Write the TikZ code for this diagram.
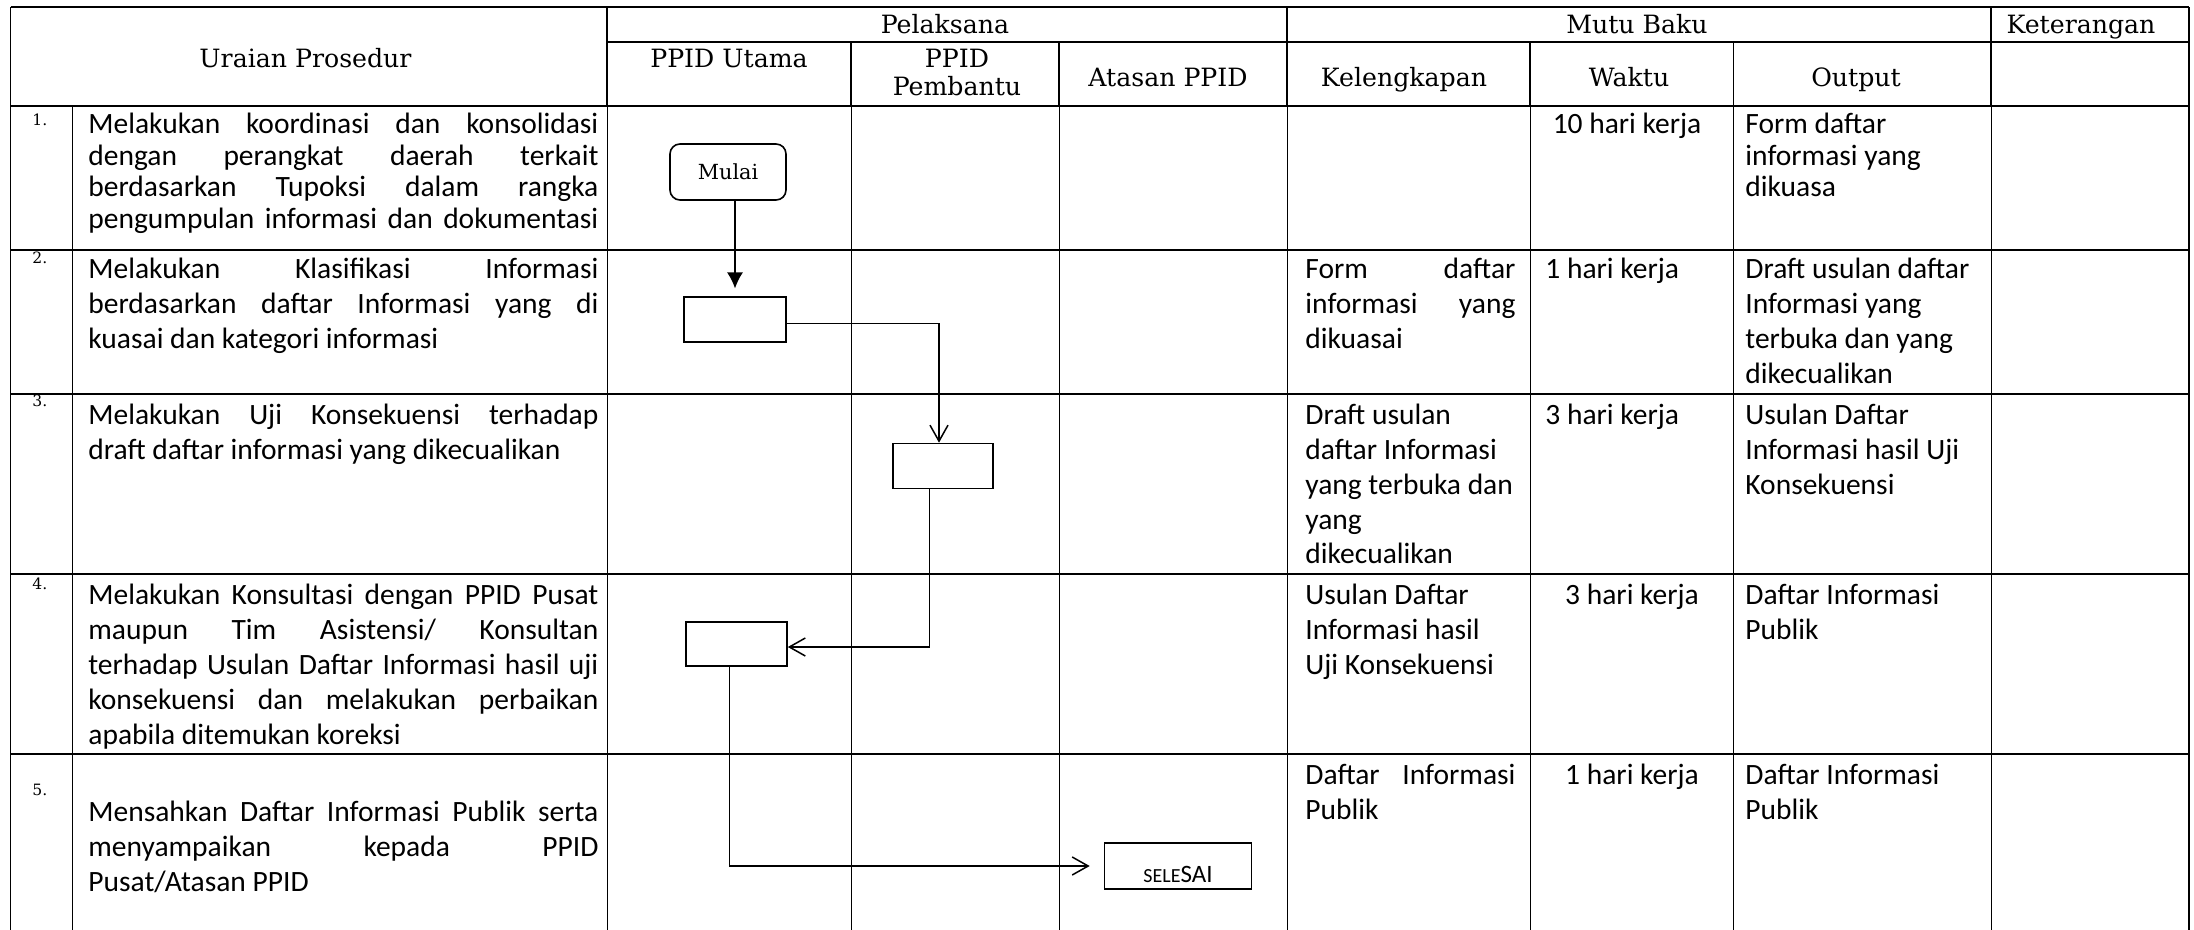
\documentclass[tikz,border=0pt]{standalone}
\usepackage{fontspec}
\setmainfont{Carlito}
\newfontfamily\hd{DejaVu Serif}
\usetikzlibrary{arrows.meta}
\newcommand\jl[2]{\hbox to #1{\spaceskip=.25em plus 1fil\relax #2}}
\newcommand\jm[1]{\jl{255pt}{#1}}
\newcommand\jk[1]{\jl{105pt}{#1}}
\newcommand\lx[1]{\hbox{#1}}
\tikzset{
  body/.style={anchor=base west, inner sep=0pt, font=\fontsize{14.75}{17.5}\selectfont},
  bodyA/.style={body, font=\fontsize{14.75}{15.75}\selectfont},
  hdr/.style={anchor=base, inner sep=0pt, font=\hd\fontsize{12.6}{13}\selectfont},
  num/.style={anchor=base west, inner sep=0pt, font=\hd\fontsize{7.8}{9}\selectfont},
  flow/.style={draw, line width=0.8pt, inner sep=0pt},
  conn/.style={line width=0.75pt},
  grid/.style={line width=0.85pt},
  thin/.style={line width=0.45pt},
  openarrow/.style={-{Straight Barb[length=8pt,width=9pt]}},
}
\begin{document}
\begin{tikzpicture}[x=0.5pt,y=-0.5pt]
\useasboundingbox (0,0) rectangle (2194,930);
% ---------- table grid ----------
\draw[grid] (10.5,7.3) -- (2189,7.3);
\draw[grid] (607,41.7) -- (2189,41.7);
\draw[grid] (10.5,105.7) -- (2189,105.7);
\foreach \yy in {250,394,574.3,754.3} \draw[grid] (10.5,\yy) -- (2189,\yy);
\draw[grid] (10.5,7.3) -- (10.5,930);
\draw[grid] (2189,7.3) -- (2189,930);
\foreach \xx in {607,1287,1991} {\draw[grid] (\xx,7.3) -- (\xx,105.7); \draw[thin] (\xx,105.7) -- (\xx,930);}
\foreach \xx in {851,1059,1530,1733.5} {\draw[grid] (\xx,41.7) -- (\xx,105.7); \draw[thin] (\xx,105.7) -- (\xx,930);}
\draw[thin] (72,105.7) -- (72,930);
% ---------- headers ----------
\node[hdr] (hUraian) at (305.5,68) {Uraian Prosedur};
\node[hdr] (hPel) at (945,33.5) {Pelaksana};
\node[hdr] (hMutu) at (1637,33.5) {Mutu Baku};
\node[hdr] (hKet) at (2081,33.5) {Keterangan};
\node[hdr] (hUtama) at (729,68) {PPID Utama};
\node[hdr] (hPemb1) at (957,68) {PPID};
\node[hdr] (hPemb2) at (957,96) {Pembantu};
\node[hdr] (hAtasan) at (1168,87) {Atasan PPID};
\node[hdr] (hKel) at (1404,87) {Kelengkapan};
\node[hdr] (hWaktu) at (1629,87) {Waktu};
\node[hdr] (hOut) at (1856,87) {Output};
% ---------- numbers ----------
\node[num] (n1) at (32,126) {1.};
\node[num] (n2) at (32,264) {2.};
\node[num] (n3) at (32,407) {3.};
\node[num] (n4) at (32,589) {4.};
\node[num] (n5) at (32,795) {5.};
% ---------- procedure texts ----------
\node[bodyA] (t1) at (88,134) {\vtop{\jm{Melakukan koordinasi dan konsolidasi}\jm{dengan perangkat daerah terkait}\jm{berdasarkan Tupoksi dalam rangka}\jm{pengumpulan informasi dan dokumentasi}}};
\node[body] (t2) at (88,279) {\vtop{\jm{Melakukan Klasifikasi Informasi}\jm{berdasarkan daftar Informasi yang di}\lx{kuasai dan kategori informasi}}};
\node[body] (t3) at (88,424) {\vtop{\jm{Melakukan Uji Konsekuensi terhadap}\lx{draft daftar informasi yang dikecualikan}}};
\node[body] (t4) at (88,604) {\vtop{\jm{Melakukan Konsultasi dengan PPID Pusat}\jm{maupun Tim Asistensi/ Konsultan}\jm{terhadap Usulan Daftar Informasi hasil uji}\jm{konsekuensi dan melakukan perbaikan}\lx{apabila ditemukan koreksi}}};
\node[body] (t5) at (88,821) {\vtop{\jm{Mensahkan Daftar Informasi Publik serta}\jm{menyampaikan kepada PPID}\lx{Pusat/Atasan PPID}}};
% ---------- Kelengkapan ----------
\node[body] (k2) at (1305,279) {\vtop{\jk{Form daftar}\jk{informasi yang}\lx{dikuasai}}};
\node[body] (k3) at (1305,424) {\vtop{\lx{Draft usulan}\lx{daftar Informasi}\lx{yang terbuka dan}\lx{yang}\lx{dikecualikan}}};
\node[body] (k4) at (1305,604) {\vtop{\lx{Usulan Daftar}\lx{Informasi hasil}\lx{Uji Konsekuensi}}};
\node[body] (k5) at (1305,784) {\vtop{\jk{Daftar Informasi}\lx{Publik}}};
% ---------- Waktu ----------
\node[bodyA, anchor=base] (w1) at (1627,134) {10 hari kerja};
\node[body] (w2) at (1545,279) {1 hari kerja};
\node[body] (w3) at (1545,424) {3 hari kerja};
\node[body, anchor=base] (w4) at (1632,604) {3 hari kerja};
\node[body, anchor=base] (w5) at (1632,784) {1 hari kerja};
% ---------- Output ----------
\node[bodyA] (o1) at (1745,134) {\vtop{\lx{Form daftar}\lx{informasi yang}\lx{dikuasa}}};
\node[body] (o2) at (1745,279) {\vtop{\lx{Draft usulan daftar}\lx{Informasi yang}\lx{terbuka dan yang}\lx{dikecualikan}}};
\node[body] (o3) at (1745,424) {\vtop{\lx{Usulan Daftar}\lx{Informasi hasil Uji}\lx{Konsekuensi}}};
\node[body] (o4) at (1745,604) {\vtop{\lx{Daftar Informasi}\lx{Publik}}};
\node[body] (o5) at (1745,784) {\vtop{\lx{Daftar Informasi}\lx{Publik}}};
% ---------- flow ----------
\node[flow, rounded corners=5pt, minimum width=58pt, minimum height=28pt, font=\hd\fontsize{10.4}{12}\selectfont] (mulai) at (728,172) {Mulai};
\node[flow, minimum width=51pt, minimum height=22.25pt] (b2) at (735,319.5) {};
\node[flow, minimum width=50pt, minimum height=22.5pt] (b3) at (943,466) {};
\node[flow, minimum width=50.5pt, minimum height=22.2pt] (b4) at (736.5,644) {};
\node[flow, minimum width=73.5pt, minimum height=23.25pt] (selesai) at (1178,866) {\smash{\raisebox{-8.3pt}{\fontsize{10}{10}\selectfont SELE\fontsize{12.5}{13}\selectfont SAI}}};
\draw[conn, -{Latex[length=8pt,width=8pt]}, shorten >=4pt] (mulai.south -| b2.north) -- (b2.north);
\draw[conn, openarrow] ([yshift=-2pt]b2.east) -| ([xshift=-2pt]b3.north);
\draw[conn, openarrow] ([xshift=-6.75pt]b3.south) |- ([yshift=-1.5pt]b4.east);
\draw[conn, openarrow, shorten >=7pt] ([xshift=-3.5pt]b4.south) |- (selesai.west);
\end{tikzpicture}
\end{document}
